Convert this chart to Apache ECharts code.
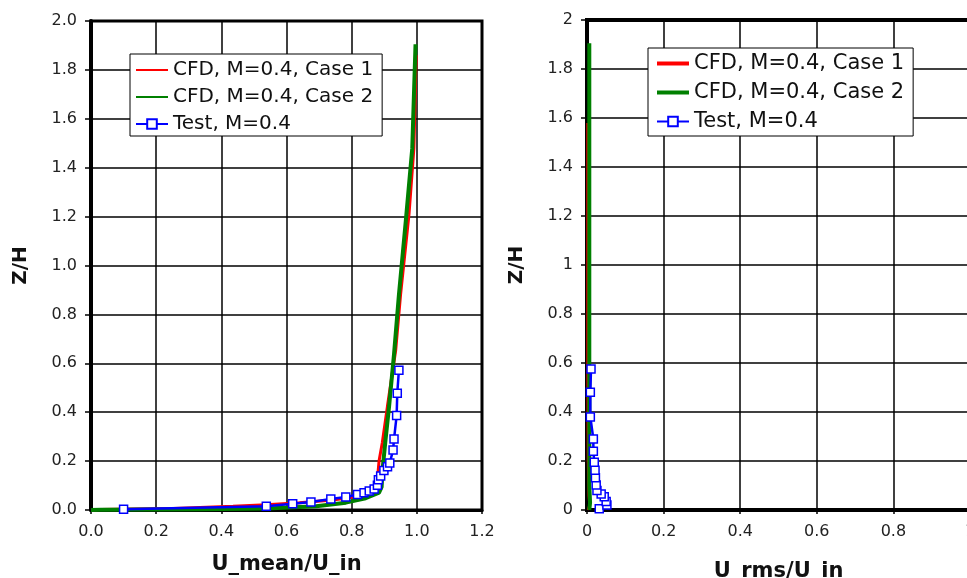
<!DOCTYPE html>
<html>
<head>
<meta charset="utf-8">
<script src="https://cdn.jsdelivr.net/npm/echarts@6/dist/echarts.min.js"></script>
<style>
html,body{margin:0;padding:0;background:#fff;}
#chart{width:967px;height:578px;}
</style>
</head>
<body>
<div id="chart"></div>
<script>
// ---- Series names ----
const seriesNames = ['CFD, M=0.4, Case 1', 'CFD, M=0.4, Case 2', 'Test, M=0.4'];

// ---- Left chart: U_mean/U_in vs Z/H ----
const meanCase1U = [0.0, 0.03, 0.253, 0.436, 0.538, 0.640, 0.742, 0.823, 0.869, 0.879, 0.884, 0.894, 0.910, 0.935, 0.950, 0.976, 0.991, 0.998];
const meanCase1Z = [0.0, 0.002, 0.006, 0.015, 0.021, 0.030, 0.041, 0.056, 0.079, 0.124, 0.200, 0.275, 0.426, 0.652, 0.880, 1.210, 1.480, 1.860];

const meanCase2U = [0.0, 0.03, 0.334, 0.538, 0.691, 0.782, 0.843, 0.884, 0.892, 0.894, 0.903, 0.915, 0.930, 0.945, 0.966, 0.986, 0.996];
const meanCase2Z = [0.0, 0.001, 0.003, 0.006, 0.015, 0.030, 0.048, 0.071, 0.094, 0.154, 0.275, 0.426, 0.637, 0.880, 1.180, 1.480, 1.905];

const meanTestU = [0.100, 0.538, 0.619, 0.675, 0.736, 0.782, 0.818, 0.838, 0.854, 0.869, 0.879, 0.882, 0.889, 0.899, 0.910, 0.917, 0.927, 0.930, 0.938, 0.940, 0.945];
const meanTestZ = [0.003, 0.015, 0.026, 0.033, 0.045, 0.053, 0.063, 0.071, 0.078, 0.086, 0.101, 0.124, 0.139, 0.162, 0.177, 0.192, 0.245, 0.290, 0.386, 0.478, 0.572];

// ---- Right chart: U_rms/U_in vs Z/H ----
const rmsCase1U = [0.002, 0.006, 0.004, 0.002, 0.001, 0.001];
const rmsCase1Z = [0.0, 0.02, 0.06, 0.20, 0.60, 1.58];

const rmsCase2U = [0.006, 0.008, 0.006, 0.006];
const rmsCase2Z = [0.0, 0.03, 0.10, 1.905];

const rmsTestU = [0.032, 0.052, 0.050, 0.045, 0.037, 0.026, 0.024, 0.022, 0.021, 0.019, 0.0166, 0.0166, 0.0087, 0.0087, 0.0105];
const rmsTestZ = [0.005, 0.020, 0.035, 0.054, 0.065, 0.080, 0.102, 0.132, 0.162, 0.195, 0.240, 0.290, 0.380, 0.481, 0.576];

// ---- Tick labels ----
const leftXTicks = ['0.0', '0.2', '0.4', '0.6', '0.8', '1.0', '1.2'];
const leftYTicks = ['0.0', '0.2', '0.4', '0.6', '0.8', '1.0', '1.2', '1.4', '1.6', '1.8', '2.0'];
const rightXTicks = ['0', '0.2', '0.4', '0.6', '0.8', '1'];
const rightYTicks = ['0', '0.2', '0.4', '0.6', '0.8', '1', '1.2', '1.4', '1.6', '1.8', '2'];

function pairs(xs, ys) { return xs.map((x, i) => [x, ys[i]]); }
function tickFmt(list, step) { return v => { const i = Math.round(v / step); return list[i] !== undefined ? list[i] : ''; }; }

const RED = '#ff0000', GREEN = '#008000', BLUE = '#0000ff';
const FONT = 'DejaVu Sans';

const chart = echarts.init(document.getElementById('chart'), null, {renderer: 'canvas'});

function xAxisCfg(gridIndex, max, interval, ticks, name, nameGap) {
  return {
    type: 'value', gridIndex, min: 0, max, interval,
    name, nameLocation: 'middle', nameGap,
    nameTextStyle: {fontFamily: FONT, fontWeight: 'bold', fontSize: 21, color: '#111'},
    axisLine: {show: true, onZero: false, lineStyle: {color: '#000', width: 3}},
    axisTick: {show: true, length: 4, lineStyle: {color: '#000', width: 1.5}},
    axisLabel: {margin: 14, fontFamily: FONT, fontSize: 16, color: '#222', formatter: tickFmt(ticks, interval)},
    splitLine: {show: true, lineStyle: {color: '#000', width: 1.5}}
  };
}
function yAxisCfg(gridIndex, ticks, nameGap) {
  return {
    type: 'value', gridIndex, min: 0, max: 2, interval: 0.2,
    name: 'Z/H', nameLocation: 'middle', nameGap,
    nameTextStyle: {fontFamily: FONT, fontWeight: 'bold', fontSize: 20, color: '#111'},
    axisLine: {show: true, onZero: false, lineStyle: {color: '#000', width: 4}},
    axisTick: {show: true, length: 6, lineStyle: {color: '#000', width: 1.5}},
    axisLabel: {margin: 14, fontFamily: FONT, fontSize: 16, color: '#222', formatter: tickFmt(ticks, 0.2)},
    splitLine: {show: true, lineStyle: {color: '#000', width: 1.5}}
  };
}

const HIDDEN = {color: 'rgba(0,0,0,0)', borderColor: 'rgba(0,0,0,0)', borderWidth: 0};

function legendCfg(left, top, textSize, lineW, gap, padding) {
  return {
    orient: 'vertical', left, top,
    backgroundColor: '#fff', borderColor: '#000', borderWidth: 1, borderRadius: 0,
    padding, itemGap: gap, itemWidth: 32, itemHeight: 12,
    textStyle: {fontFamily: FONT, fontSize: textSize, color: '#111', lineHeight: 20},
    data: [
      {name: seriesNames[0], lineStyle: {width: lineW, color: RED}, itemStyle: HIDDEN},
      {name: seriesNames[1], lineStyle: {width: lineW, color: GREEN}, itemStyle: HIDDEN},
      {name: seriesNames[2], lineStyle: {width: 2, color: BLUE}}
    ]
  };
}

const option = {
  backgroundColor: '#fff',
  animation: false,
  grid: [
    {left: 91, top: 21, width: 391, height: 489, show: true, borderColor: '#000', borderWidth: 3, backgroundColor: 'transparent', outerBoundsMode: 'none', containLabel: false},
    {left: 587, top: 20, width: 383, height: 490, show: true, borderColor: '#000', borderWidth: 4, backgroundColor: 'transparent', outerBoundsMode: 'none', containLabel: false}
  ],
  xAxis: [
    xAxisCfg(0, 1.2, 0.2, leftXTicks, 'U_mean/U_in', 44),
    xAxisCfg(1, 1.0, 0.2, rightXTicks, 'U_rms/U_in', 51)
  ],
  yAxis: [
    yAxisCfg(0, leftYTicks, 60),
    yAxisCfg(1, rightYTicks, 60)
  ],
  legend: [
    legendCfg(130, 54, 20, 2, 7, [6, 9, 2, 5]),
    legendCfg(648, 48, 21, 4, 8, [5, 9, 4, 7])
  ],
  series: [
    {name: seriesNames[0], type: 'line', xAxisIndex: 0, yAxisIndex: 0, data: pairs(meanCase1U, meanCase1Z),
      symbol: 'none', lineStyle: {color: RED, width: 3}, itemStyle: {color: RED}, clip: false},
    {name: seriesNames[1], type: 'line', xAxisIndex: 0, yAxisIndex: 0, data: pairs(meanCase2U, meanCase2Z),
      symbol: 'none', lineStyle: {color: GREEN, width: 4}, itemStyle: {color: GREEN}, clip: false},
    {name: seriesNames[2], type: 'line', xAxisIndex: 0, yAxisIndex: 0, data: pairs(meanTestU, meanTestZ),
      symbol: 'rect', symbolSize: 8, showSymbol: true,
      lineStyle: {color: BLUE, width: 2.5}, itemStyle: {color: '#fff', borderColor: BLUE, borderWidth: 1.5}, clip: false},
    {name: seriesNames[0], type: 'line', xAxisIndex: 1, yAxisIndex: 1, data: pairs(rmsCase1U, rmsCase1Z),
      symbol: 'none', lineStyle: {color: RED, width: 2}, itemStyle: {color: RED}, clip: false},
    {name: seriesNames[1], type: 'line', xAxisIndex: 1, yAxisIndex: 1, data: pairs(rmsCase2U, rmsCase2Z),
      symbol: 'none', lineStyle: {color: GREEN, width: 4}, itemStyle: {color: GREEN}, clip: false},
    {name: seriesNames[2], type: 'line', xAxisIndex: 1, yAxisIndex: 1, data: pairs(rmsTestU, rmsTestZ),
      symbol: 'rect', symbolSize: 8, showSymbol: true,
      lineStyle: {color: BLUE, width: 2.5}, itemStyle: {color: '#fff', borderColor: BLUE, borderWidth: 1.5}, clip: false}
  ]
};
chart.setOption(option);
</script>
</body>
</html>
